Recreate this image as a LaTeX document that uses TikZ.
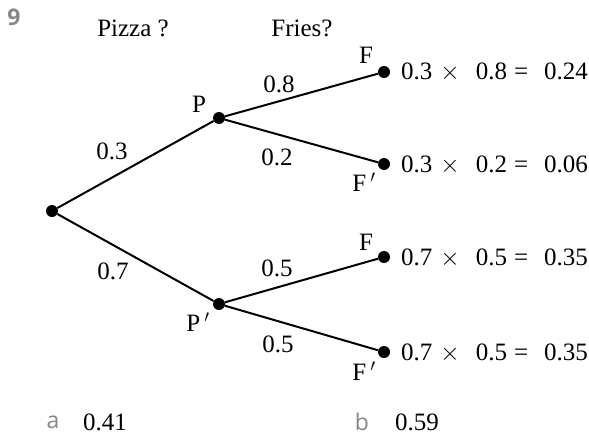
\documentclass[tikz,border=0pt]{standalone}
\usepackage{fontspec}
\setmainfont{Liberation Serif}
\newfontfamily\labfont{Open Sans}
\definecolor{labgray}{RGB}{135,135,135}
\newcommand\tsz{\fontsize{25pt}{29pt}\selectfont}
\newcommand\ssz{\fontsize{23pt}{27pt}\selectfont}
\newcommand\probprod[3]{#1\hspace{8pt}$\times$\hspace{16pt}#2\hspace{7pt}=\hspace{16pt}#3}
\begin{document}
\begin{tikzpicture}[x=1pt,y=-1pt,
  dot/.style={circle,fill=black,inner sep=0pt,minimum size=12pt},
  branch/.style={line width=2pt},
  txt/.style={font=\tsz,inner sep=0pt},
  sfl/.style={font=\labfont\ssz,text=labgray,inner sep=0pt}]
\useasboundingbox (0,0) rectangle (589,439);
\node[dot] (R) at (52,211) {};
\node[dot] (P) at (219,118) {};
\node[dot] (Q) at (219,304) {};
\node[dot] (F1) at (384,72) {};
\node[dot] (G1) at (384,164) {};
\node[dot] (F2) at (384,257) {};
\node[dot] (G2) at (384,352) {};
\draw[branch] (R) -- (P);
\draw[branch] (R) -- (Q);
\draw[branch] (P) -- (F1);
\draw[branch] (P) -- (G1);
\draw[branch] (Q) -- (F2);
\draw[branch] (Q) -- (G2);
\node[sfl,font=\labfont\bfseries\ssz] (n9) at (14,17) {9};
\node[txt] (hp) at (133,28) {Pizza ?};
\node[txt] (hf) at (302,28) {Fries?};
\node[txt] (lP) at (199,104) {P};
\node[txt] (lQ) at (198,322) {P$\,'$};
\node[txt] (l03) at (112,151) {0.3};
\node[txt] (l07) at (113,271) {0.7};
\node[txt] (l08) at (279,84) {0.8};
\node[txt] (l02) at (277,157) {0.2};
\node[txt] (l05a) at (277,268) {0.5};
\node[txt] (l05b) at (278,344) {0.5};
\node[txt] (lF1) at (366,55) {F};
\node[txt] (lG1) at (364,182) {F$\,'$};
\node[txt] (lF2) at (366,242) {F};
\node[txt] (lG2) at (364,371) {F$\,'$};
\node[txt,anchor=west] (r1) at (401,72) {\probprod{0.3}{0.8}{0.24}};
\node[txt,anchor=west] (r2) at (401,165) {\probprod{0.3}{0.2}{0.06}};
\node[txt,anchor=west] (r3) at (401,258) {\probprod{0.7}{0.5}{0.35}};
\node[txt,anchor=west] (r4) at (401,353) {\probprod{0.7}{0.5}{0.35}};
\node[sfl] (la) at (53,422) {a};
\node[txt,anchor=west] (va) at (83,422) {0.41};
\node[sfl] (lb) at (362,422) {b};
\node[txt,anchor=west] (vb) at (395,422) {0.59};
\end{tikzpicture}
\end{document}
